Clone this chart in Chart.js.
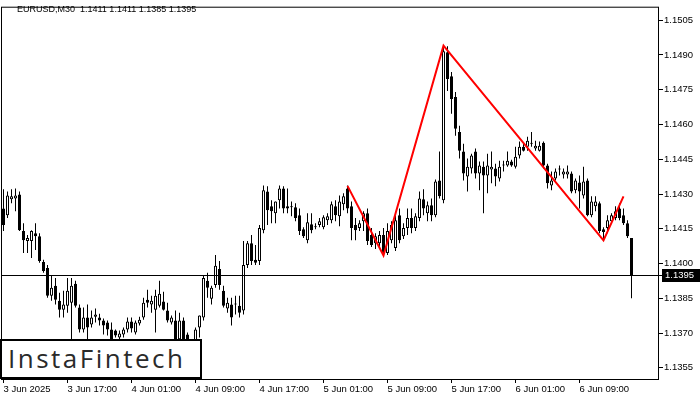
<!DOCTYPE html>
<html>
<head>
<meta charset="utf-8">
<script src="https://cdn.jsdelivr.net/npm/chart.js@4.4.1/dist/chart.umd.min.js"></script>
<style>
  html, body { margin: 0; padding: 0; background: #fff; }
  #wrap { position: relative; width: 700px; height: 400px; overflow: hidden; }
  #header { position: absolute; left: 17px; top: 4px; font: 9px "Liberation Sans", Arial, sans-serif; white-space: pre; color: #000; }
  #logo { position: absolute; left: 0; top: 339px; width: 198px; height: 36px; border: 2px solid #000; background: #fff; }
  #logo span { position: absolute; left: 6px; top: -1px; font: 400 26px "Open Sans", sans-serif; letter-spacing: 2.5px; color: #2a2a2a; }
</style>
</head>
<body>
<div id="wrap">
  <canvas id="chart" width="700" height="400"></canvas>
  <div id="header">EURUSD,M30  1.1411 1.1411 1.1385 1.1395</div>
  <div id="logo"><span>InstaFintech</span></div>
</div>
<script>
// EURUSD M30 candles, 3 Jun 09:00 .. 6 Jun 15:30
const open = [
  1.14238,1.14208,1.14277,1.14281,1.14298,1.14140,1.14097,1.14097,1.14131,1.14118,
  1.14007,1.13981,1.13861,1.13904,1.13840,1.13801,1.13818,1.13831,1.13913,1.13810,
  1.13716,1.13767,1.13737,1.13771,1.13767,1.13754,1.13746,1.13716,1.13711,1.13681,
  1.13694,1.13716,1.13750,1.13703,1.13741,1.13767,1.13844,1.13823,1.13801,1.13818,
  1.13836,1.13797,1.13746,1.13754,1.13673,1.13754,1.13694,1.13638,1.13617,1.13724,
  1.13767,1.13926,1.13848,1.13908,1.13977,1.13883,1.13806,1.13823,1.13823,1.13818,
  1.13797,1.13994,1.14088,1.14016,1.14011,1.14144,1.14311,1.14247,1.14217,1.14273,
  1.14324,1.14247,1.14247,1.14243,1.14208,1.14148,1.14101,1.14170,1.14161,1.14166,
  1.14157,1.14187,1.14187,1.14247,1.14204,1.14256,1.14324,1.14247,1.14166,1.14153,
  1.14183,1.14217,1.14123,1.14088,1.14088,1.14123,1.14046,1.14101,1.14067,1.14208,
  1.14118,1.14153,1.14196,1.14153,1.14196,1.14277,1.14217,1.14251,1.14208,1.14358,
  1.14273,1.14911,1.14808,1.14718,1.14568,1.14483,1.14376,1.14410,1.14483,1.14388,
  1.14418,1.14380,1.14406,1.14410,1.14367,1.14423,1.14423,1.14440,1.14418,1.14466,
  1.14504,1.14504,1.14521,1.14496,1.14487,1.14521,1.14423,1.14337,1.14367,1.14410,
  1.14384,1.14384,1.14388,1.14316,1.14350,1.14294,1.14358,1.14208,1.14247,1.14260,
  1.14148,1.14153,1.14183,1.14196,1.14238,1.14208,1.14174,1.14110
]
const high = [
  1.14320,1.14311,1.14320,1.14324,1.14311,1.14174,1.14123,1.14144,1.14174,1.14131,
  1.14016,1.13994,1.13947,1.13938,1.13874,1.13883,1.13938,1.13938,1.13926,1.13823,
  1.13810,1.13823,1.13797,1.13806,1.13784,1.13763,1.13754,1.13746,1.13716,1.13711,
  1.13724,1.13767,1.13767,1.13754,1.13771,1.13853,1.13887,1.13861,1.13887,1.13926,
  1.13878,1.13831,1.13776,1.13797,1.13788,1.13767,1.13703,1.13660,1.13724,1.13776,
  1.13947,1.13960,1.13904,1.14037,1.14011,1.13904,1.13853,1.13853,1.13861,1.13861,
  1.14097,1.14097,1.14123,1.14080,1.14166,1.14337,1.14333,1.14273,1.14268,1.14337,
  1.14333,1.14324,1.14268,1.14260,1.14238,1.14157,1.14217,1.14217,1.14174,1.14196,
  1.14208,1.14217,1.14268,1.14273,1.14294,1.14303,1.14337,1.14268,1.14196,1.14187,
  1.14226,1.14238,1.14153,1.14131,1.14140,1.14153,1.14174,1.14183,1.14217,1.14238,
  1.14174,1.14238,1.14238,1.14217,1.14311,1.14320,1.14268,1.14281,1.14363,1.14483,
  1.14941,1.14937,1.14826,1.14740,1.14594,1.14517,1.14453,1.14474,1.14496,1.14440,
  1.14440,1.14474,1.14483,1.14431,1.14444,1.14444,1.14483,1.14448,1.14504,1.14526,
  1.14517,1.14547,1.14568,1.14530,1.14526,1.14526,1.14431,1.14397,1.14410,1.14423,
  1.14410,1.14423,1.14397,1.14367,1.14380,1.14418,1.14367,1.14290,1.14290,1.14268,
  1.14157,1.14208,1.14217,1.14247,1.14260,1.14238,1.14187,1.14110
]
const low = [
  1.14140,1.14196,1.14260,1.14226,1.14140,1.14046,1.14046,1.14024,1.14058,1.14003,
  1.13960,1.13853,1.13840,1.13823,1.13767,1.13767,1.13788,1.13660,1.13810,1.13703,
  1.13703,1.13660,1.13724,1.13746,1.13733,1.13694,1.13690,1.13660,1.13681,1.13673,
  1.13681,1.13703,1.13703,1.13694,1.13733,1.13758,1.13810,1.13788,1.13703,1.13810,
  1.13797,1.13746,1.13737,1.13651,1.13660,1.13638,1.13617,1.13596,1.13596,1.13681,
  1.13754,1.13853,1.13823,1.13896,1.13887,1.13810,1.13788,1.13733,1.13780,1.13767,
  1.13780,1.13981,1.13994,1.13994,1.13994,1.14131,1.14166,1.14174,1.14174,1.14238,
  1.14217,1.14217,1.14204,1.14183,1.14123,1.14110,1.14088,1.14131,1.14148,1.14157,
  1.14148,1.14166,1.14174,1.14183,1.14161,1.14230,1.14217,1.14101,1.14101,1.14140,
  1.14140,1.14080,1.14071,1.14063,1.14063,1.14037,1.14037,1.14088,1.14054,1.14088,
  1.14106,1.14123,1.14131,1.14140,1.14183,1.14208,1.14183,1.14183,1.14200,1.14281,
  1.14260,1.14744,1.14646,1.14551,1.14453,1.14358,1.14311,1.14388,1.14367,1.14316,
  1.14217,1.14303,1.14346,1.14333,1.14354,1.14397,1.14418,1.14418,1.14410,1.14453,
  1.14483,1.14487,1.14504,1.14487,1.14483,1.14410,1.14324,1.14316,1.14358,1.14380,
  1.14367,1.14367,1.14303,1.14303,1.14238,1.14281,1.14204,1.14200,1.14226,1.14131,
  1.14101,1.14131,1.14174,1.14187,1.14187,1.14166,1.14110,1.13850
]
const close = [
  1.14166,1.14294,1.14290,1.14294,1.14144,1.14101,1.14110,1.14140,1.14118,1.14011,
  1.13968,1.13861,1.13896,1.13844,1.13801,1.13823,1.13883,1.13904,1.13818,1.13716,
  1.13767,1.13724,1.13767,1.13780,1.13754,1.13733,1.13716,1.13673,1.13690,1.13698,
  1.13716,1.13750,1.13720,1.13746,1.13758,1.13831,1.13831,1.13840,1.13861,1.13870,
  1.13801,1.13754,1.13767,1.13660,1.13754,1.13660,1.13638,1.13617,1.13716,1.13776,
  1.13938,1.13896,1.13896,1.13990,1.13908,1.13818,1.13831,1.13767,1.13827,1.13788,
  1.13994,1.14088,1.14011,1.14003,1.14153,1.14316,1.14230,1.14226,1.14268,1.14324,
  1.14238,1.14238,1.14243,1.14196,1.14140,1.14118,1.14178,1.14144,1.14157,1.14183,
  1.14200,1.14204,1.14256,1.14208,1.14268,1.14290,1.14238,1.14153,1.14144,1.14174,
  1.14217,1.14097,1.14080,1.14118,1.14123,1.14046,1.14140,1.14166,1.14187,1.14101,
  1.14153,1.14196,1.14153,1.14204,1.14281,1.14238,1.14251,1.14208,1.14354,1.14290,
  1.14916,1.14796,1.14710,1.14581,1.14487,1.14388,1.14418,1.14466,1.14388,1.14423,
  1.14380,1.14423,1.14418,1.14376,1.14418,1.14427,1.14444,1.14423,1.14461,1.14504,
  1.14487,1.14530,1.14517,1.14508,1.14508,1.14423,1.14346,1.14358,1.14397,1.14406,
  1.14397,1.14397,1.14311,1.14358,1.14311,1.14354,1.14208,1.14268,1.14268,1.14140,
  1.14136,1.14187,1.14208,1.14226,1.14196,1.14174,1.14118,1.13950
]

// time axis labels (every 16 bars = 8 hours)
const xTickIdx = [0, 16, 32, 48, 64, 80, 96, 112, 128, 144]
const xLabels = ["3 Jun 2025", "3 Jun 17:00", "4 Jun 01:00", "4 Jun 09:00", "4 Jun 17:00",
  "5 Jun 01:00", "5 Jun 09:00", "5 Jun 17:00", "6 Jun 01:00", "6 Jun 09:00"]
const yTicks = [1.1355, 1.1370, 1.1385, 1.1400, 1.1415, 1.1430, 1.1445, 1.1460, 1.1475, 1.1490, 1.1505]

// red pattern line (bar index, price)
const patternX = [86, 95, 110, 150, 155]
const patternY = [1.14335, 1.14035, 1.14940, 1.14100, 1.14290]

const lastPrice = close[close.length - 1]
const axisFont = { family: "Liberation Sans", size: 9.5 }

const bodies = open.map((o, i) => ({ x: i, y: [Math.min(o, close[i]), Math.max(o, close[i])] }))
const bodyColors = open.map((o, i) => (close[i] >= o ? "#ffffff" : "#000000"))
const wicks = low.map((l, i) => ({ x: i, y: [l, high[i]] }))
const pattern = patternX.map((x, i) => ({ x: x, y: patternY[i] }))

// frame around the plot + bid line with its price label
const framePlugin = {
  id: "frame",
  afterDatasetsDraw(chart) {
    const { ctx, chartArea, scales } = chart
    const y = Math.round(scales.y.getPixelForValue(lastPrice)) + 0.5
    ctx.save()
    ctx.strokeStyle = "#000"
    ctx.lineWidth = 1
    ctx.beginPath()
    ctx.moveTo(chartArea.left, y)
    ctx.lineTo(chartArea.right + 4, y)
    ctx.stroke()
    ctx.restore()
  },
  afterDraw(chart) {
    const { ctx, chartArea, scales } = chart
    ctx.save()
    ctx.strokeStyle = "#000"
    ctx.lineWidth = 1
    ctx.strokeRect(chartArea.left + 0.5, chartArea.top + 0.5,
      chartArea.right - chartArea.left - 1, chartArea.bottom - chartArea.top)
    const y = Math.round(scales.y.getPixelForValue(lastPrice))
    ctx.fillStyle = "#000"
    ctx.fillRect(chartArea.right + 3, y - 6, 38, 13)
    ctx.fillStyle = "#fff"
    ctx.font = "9.5px 'Liberation Sans'"
    ctx.textBaseline = "middle"
    ctx.fillText(lastPrice.toFixed(4), chartArea.right + 6, y + 0.5)
    ctx.restore()
  },
}

new Chart(document.getElementById("chart"), {
  type: "bar",
  data: {
    datasets: [
      {
        type: "line",
        data: pattern,
        borderColor: "#ff0000",
        borderWidth: 2,
        pointRadius: 0,
        tension: 0,
        order: 0,
      },
      {
        data: bodies,
        backgroundColor: bodyColors,
        borderColor: "#000",
        borderWidth: 1,
        borderSkipped: false,
        barThickness: 3,
        minBarLength: 1,
        inflateAmount: 0,
        grouped: false,
        order: 1,
      },
      {
        data: wicks,
        backgroundColor: "#000",
        borderWidth: 0,
        barThickness: 1,
        inflateAmount: 0,
        grouped: false,
        order: 2,
      },
    ],
  },
  options: {
    responsive: false,
    animation: false,
    layout: { padding: { left: 1, top: 2, right: 0, bottom: 0 } },
    plugins: { legend: { display: false }, tooltip: { enabled: false } },
    scales: {
      x: {
        type: "linear",
        min: -0.625,
        max: 163.875,
        offset: false,
        afterBuildTicks: (s) => { s.ticks = xTickIdx.map((v) => ({ value: v })) },
        afterFit: (s) => { s.height = 21 },
        ticks: {
          autoSkip: false,
          maxRotation: 0,
          align: "start",
          padding: 1,
          color: "#000",
          font: axisFont,
          callback: (v) => xLabels[xTickIdx.indexOf(v)],
        },
        grid: { drawOnChartArea: false, drawTicks: true, tickLength: 4, color: "#000", offset: false },
        border: { display: false },
      },
      y: {
        position: "right",
        min: 1.13502,
        max: 1.15108,
        afterBuildTicks: (s) => { s.ticks = yTicks.map((v) => ({ value: v })) },
        afterFit: (s) => { s.width = 41 },
        ticks: {
          padding: 1,
          color: "#000",
          font: axisFont,
          callback: (v) => v.toFixed(4),
        },
        grid: { drawOnChartArea: false, drawTicks: true, tickLength: 4, color: "#000" },
        border: { display: false },
      },
    },
  },
  plugins: [framePlugin],
})
</script>
</body>
</html>
